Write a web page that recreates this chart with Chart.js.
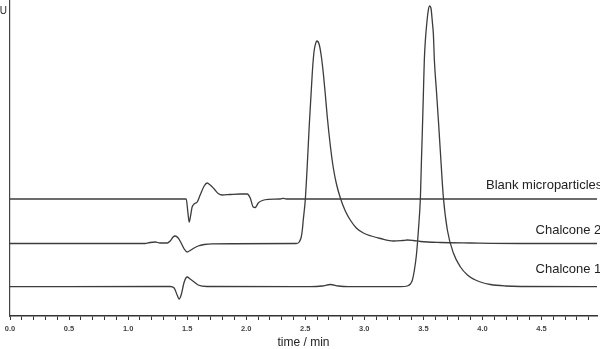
<!DOCTYPE html>
<html>
<head>
<meta charset="utf-8">
<script src="https://cdn.jsdelivr.net/npm/chart.js@4.4.1/dist/chart.umd.min.js"></script>
<style>
html,body{margin:0;padding:0;background:#fff;}
#wrap{width:600px;height:349px;position:relative;}
</style>
</head>
<body>
<div id="wrap"><canvas id="c"></canvas></div>
<script>
// ---- Data (time in min, signal in mAU relative to each trace's baseline) ----
const seriesNames = ["Blank microparticles", "Chalcone 2", "Chalcone 1"];
const traceOffsets = [117, 72.5, 29.3]; // vertical stacking offsets (mAU)

const blankTime = [0, 1.492, 1.504, 1.517, 1.530, 1.542, 1.559, 1.585, 1.610, 1.644, 1.669, 1.695, 1.729, 1.763, 1.797, 1.864, 1.949, 2.008, 2.034, 2.059, 2.076, 2.102, 2.136, 2.186, 2.288, 2.314, 2.339, 4.983];
const blankSignal = [0, 0, -11, -23, -16, -8, -5, -3, 4, 13, 16, 14, 10, 5.5, 4, 4.5, 5, 5, 1, -8, -8.5, -4, -1.5, -0.3, 0, 0.7, 0, 0];

const chalcone2Time = [0, 1.144, 1.186, 1.229, 1.271, 1.331, 1.356, 1.381, 1.398, 1.424, 1.449, 1.475, 1.500, 1.525, 1.559, 1.593, 1.644, 1.712, 2.424, 2.449, 2.466, 2.475, 2.483, 2.500, 2.517, 2.534, 2.551, 2.564, 2.576, 2.589, 2.599, 2.619, 2.636, 2.653, 2.669, 2.686, 2.712, 2.737, 2.763, 2.797, 2.839, 2.881, 2.932, 2.992, 3.059, 3.136, 3.246, 3.322, 3.364, 3.415, 3.475, 3.644, 3.898, 4.322, 4.983];
const chalcone2Signal = [0, 0, 1, 1.5, 0.5, 0.5, 2.5, 6.5, 7.5, 5.5, 0.5, -5.5, -8.5, -7, -4.5, -2.5, -1, -0.3, 0, 1.5, 6.5, 13.5, 23.5, 43.5, 78.5, 118.5, 153.5, 178.5, 193.5, 200.5, 202.5, 198.5, 187, 170, 150, 127, 98, 76, 60, 45.5, 32.5, 23.5, 15.5, 10.5, 7.5, 5, 2.5, 3, 3.5, 3, 2, 1, 0.5, 0, 0];

const chalcone1Time = [0, 1.356, 1.390, 1.415, 1.432, 1.449, 1.475, 1.500, 1.525, 1.559, 1.593, 1.669, 2.542, 2.644, 2.712, 2.780, 2.864, 3.305, 3.364, 3.390, 3.407, 3.424, 3.441, 3.458, 3.475, 3.483, 3.492, 3.500, 3.508, 3.517, 3.530, 3.542, 3.553, 3.564, 3.576, 3.585, 3.593, 3.610, 3.627, 3.644, 3.669, 3.703, 3.754, 3.814, 3.873, 3.932, 3.983, 4.068, 4.195, 4.322, 4.983];
const chalcone1Signal = [0, 0.2, -1.3, -8.3, -12.3, -8.3, 4.7, 9.7, 7.7, 4.7, 1.7, 0.2, 0, 0.7, 2.2, 0.7, 0, 0, 0.7, 2.7, 6.7, 16.7, 31.7, 56.7, 89.7, 123.7, 158.7, 192.7, 226.7, 246.7, 264.7, 276.7, 280.7, 278.7, 264.7, 251.7, 226.7, 196.7, 166.7, 134.7, 89.7, 56.7, 33.7, 19.7, 11.7, 7.2, 4.7, 2.2, 0.7, 0.2, 0];

const xMin = 0, xMax = 4.97, xStep = 0.1;
const yUnitLabel = "mAU";
const xTitle = "time / min";

// ---- Build datasets ----
function toPoints(times, vals, off) {
  return times.map((t, i) => ({ x: t, y: vals[i] + off }));
}
const lineColor = '#3c3c3c';
const datasets = [
  { label: seriesNames[0], data: toPoints(blankTime, blankSignal, traceOffsets[0]) },
  { label: seriesNames[1], data: toPoints(chalcone2Time, chalcone2Signal, traceOffsets[1]) },
  { label: seriesNames[2], data: toPoints(chalcone1Time, chalcone1Signal, traceOffsets[2]) }
].map(d => Object.assign(d, {
  borderColor: lineColor, borderWidth: 1.3, pointRadius: 0,
  cubicInterpolationMode: 'monotone', fill: false
}));

// label positions: [time, height above baseline]
const labelPos = [[4.03, 14], [4.45, 13], [4.45, 17]];

const annotate = {
  id: 'annotate',
  afterDraw(chart) {
    const ctx = chart.ctx, xs = chart.scales.x, ys = chart.scales.y;
    ctx.save();
    ctx.fillStyle = '#222';
    ctx.font = '13px "Liberation Sans", Arial, sans-serif';
    ctx.textBaseline = 'middle';
    ctx.textAlign = 'left';
    seriesNames.forEach((n, i) => {
      ctx.fillText(n, xs.getPixelForValue(labelPos[i][0]), ys.getPixelForValue(traceOffsets[i] + labelPos[i][1]));
    });
    ctx.font = '10px "Liberation Sans", Arial, sans-serif';
    ctx.textAlign = 'right';
    ctx.fillText(yUnitLabel, 7, 11);
    ctx.restore();
  }
};

new Chart(document.getElementById('c'), {
  type: 'line',
  data: { datasets },
  options: {
    responsive: true, maintainAspectRatio: false, animation: false,
    layout: { padding: { left: 0, right: 3, top: 0, bottom: 0 } },
    plugins: { legend: { display: false }, tooltip: { enabled: false } },
    scales: {
      x: {
        type: 'linear', min: xMin, max: xMax,
        afterFit: s => { s.height = 33; },
        border: { display: true, color: '#333', width: 1.5 },
        grid: { display: true, drawOnChartArea: false, drawTicks: true, tickLength: 4, color: '#333', lineWidth: 1 },
        ticks: {
          stepSize: xStep, includeBounds: false, autoSkip: false, maxRotation: 0, padding: 4,
          color: '#444', font: { size: 7.5, family: '"Liberation Sans", Arial, sans-serif', weight: 'bold' },
          callback: v => { const r = Math.round(v * 10); return r % 5 === 0 ? (r / 10).toFixed(1) : ''; }
        },
        title: { display: true, text: xTitle, color: '#222', padding: { top: 0, bottom: 0 },
                 font: { size: 12, lineHeight: 1, family: '"Liberation Sans", Arial, sans-serif' } }
      },
      y: {
        min: 0, max: 316,
        afterFit: s => { s.width = 10; },
        border: { display: true, color: '#444', width: 1.2 },
        grid: { display: true, drawOnChartArea: false, drawTicks: false },
        ticks: { display: false }
      }
    }
  },
  plugins: [annotate]
});
</script>
</body>
</html>
